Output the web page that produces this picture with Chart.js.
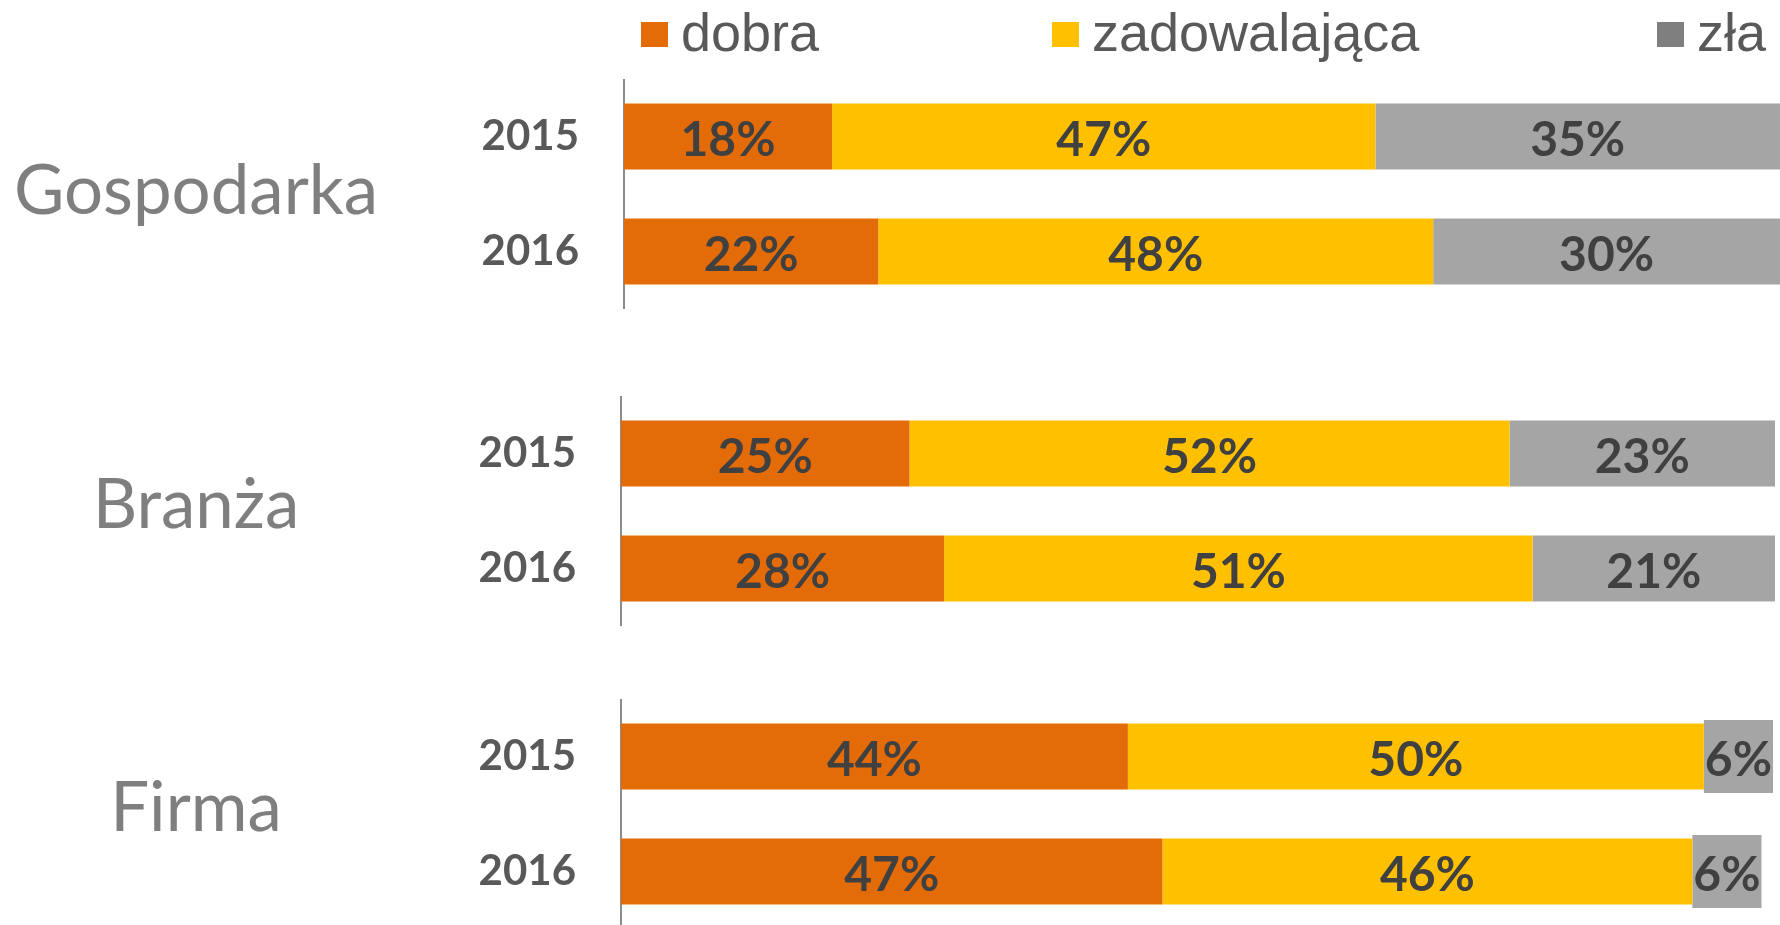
<!DOCTYPE html>
<html>
<head>
<meta charset="utf-8">
<script src="https://cdn.jsdelivr.net/npm/chart.js@4"></script>
<style>
  body { margin: 0; width: 1780px; height: 925px; overflow: hidden; background: #fff; }
  .panel { position: absolute; }
  .group { position: absolute; font-family: Lato, sans-serif; font-size: 69px; color: #7f7f7f;
           transform: translate(-50%, -50%); white-space: nowrap; }
  .lg-box { position: absolute; width: 27px; height: 25px; }
  .lg-text { position: absolute; font-family: "Liberation Sans", Arial, sans-serif; font-size: 54px;
             color: #595959; line-height: 1; white-space: nowrap; }
</style>
</head>
<body>
<div id="legend"></div>

<script>
// data
const years = ['2015', '2016'];
const groups = ['Gospodarka', 'Branża', 'Firma'];
const seriesNames = ['dobra', 'zadowalająca', 'zła'];
const dobra = [[18, 22], [25, 28], [44, 47]];
const zadowalajaca = [[47, 48], [52, 51], [50, 46]];
const zla = [[35, 30], [23, 21], [6, 6]];

const barColors = ['#E36C09', '#FFC000', '#A5A5A5'];
const legendColors = ['#E36C09', '#FFC000', '#7F7F7F'];

// layout of the three panels
const panels = [
  { top: 79,  left: 430, width: 1350, axisW: 194, labelY: 187 },
  { top: 396, left: 430, width: 1345, axisW: 191, labelY: 501 },
  { top: 699, left: 430, width: 1343, axisW: 191, labelY: 804 }
];

// legend (html)
const legendX = [641, 1052, 1657];
const legend = document.getElementById('legend');
seriesNames.forEach((name, i) => {
  const box = document.createElement('div');
  box.className = 'lg-box';
  box.style.left = legendX[i] + 'px';
  box.style.top = '22px';
  box.style.background = legendColors[i];
  legend.appendChild(box);
  const txt = document.createElement('div');
  txt.className = 'lg-text';
  txt.style.left = (legendX[i] + 40) + 'px';
  txt.style.top = '5px';
  txt.textContent = name;
  legend.appendChild(txt);
});

const valueLabels = {
  id: 'valueLabels',
  afterDatasetsDraw(chart) {
    const ctx = chart.ctx;
    ctx.save();
    ctx.font = 'bold 48px Lato';
    ctx.fillStyle = '#404040';
    ctx.textAlign = 'center';
    ctx.textBaseline = 'middle';
    chart.data.datasets.forEach((ds, i) => {
      chart.getDatasetMeta(i).data.forEach((bar, j) => {
        const p = bar.getProps(['x', 'y', 'base'], true);
        ctx.fillText(ds.data[j] + '%', (p.x + p.base) / 2, p.y + 4);
      });
    });
    ctx.restore();
  }
};

panels.forEach((pn, g) => {
  const wrap = document.createElement('div');
  wrap.className = 'panel';
  wrap.style.left = pn.left + 'px';
  wrap.style.top = pn.top + 'px';
  wrap.style.width = pn.width + 'px';
  wrap.style.height = '230px';
  const canvas = document.createElement('canvas');
  wrap.appendChild(canvas);
  document.body.appendChild(wrap);

  const label = document.createElement('div');
  label.className = 'group';
  label.style.left = '196px';
  label.style.top = pn.labelY + 'px';
  label.textContent = groups[g];
  document.body.appendChild(label);

  const seriesData = [dobra[g], zadowalajaca[g], zla[g]];
  new Chart(canvas, {
    type: 'bar',
    data: {
      labels: years,
      datasets: seriesNames.map((name, i) => ({
        label: name,
        data: seriesData[i],
        backgroundColor: barColors[i],
        barPercentage: (g === 2 && i === 2) ? 0.635 : 0.574,
        categoryPercentage: 1
      }))
    },
    options: {
      indexAxis: 'y',
      responsive: true,
      maintainAspectRatio: false,
      animation: false,
      layout: { padding: 0 },
      plugins: {
        legend: { display: false },
        tooltip: { enabled: false }
      },
      scales: {
        x: { stacked: true, min: 0, max: 100, display: false },
        y: {
          stacked: true,
          grid: { display: false, drawTicks: false },
          border: { display: true, color: '#8c8c8c', width: 2 },
          ticks: {
            padding: 45,
            color: '#595959',
            font: { family: 'Lato', size: 42, weight: 'bold' }
          },
          afterFit(scale) {
            // fixed axis width; drop the extra top/bottom padding from ticks.padding
            scale.width = pn.axisW;
            scale.paddingTop = 0;
            scale.paddingBottom = 0;
          }
        }
      }
    },
    plugins: [valueLabels]
  });
});
</script>
</body>
</html>
